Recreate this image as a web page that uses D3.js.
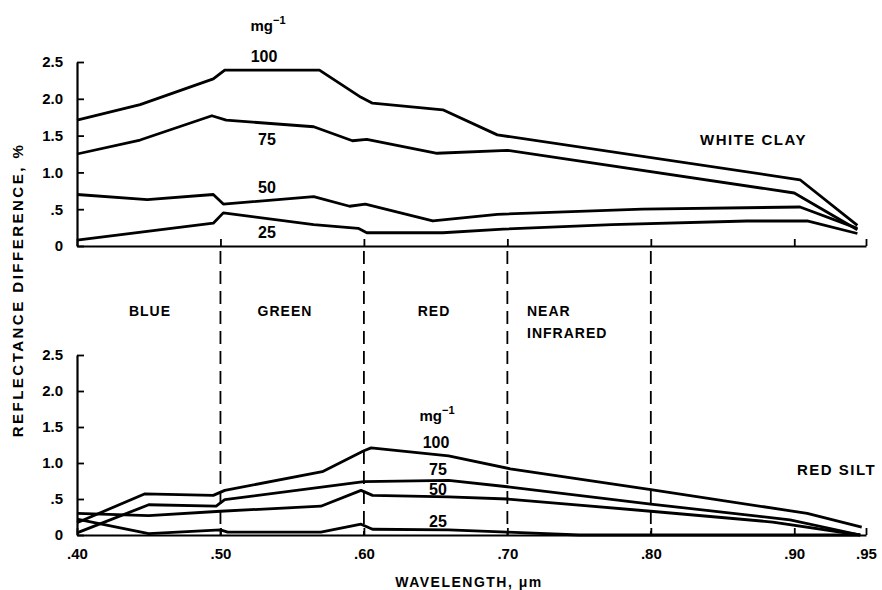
<!DOCTYPE html>
<html>
<head>
<meta charset="utf-8">
<script src="https://cdn.jsdelivr.net/npm/d3@7"></script>
<style>
  body { margin: 0; background: #fff; }
  svg text { font-family: "Liberation Sans", Arial, sans-serif; font-weight: bold; fill: #000; }
</style>
</head>
<body>
<div id="chart"></div>
<script>
// wavelength (um), reflectance difference (%)
const clay100 = [[.40,1.71],[.444,1.92],[.495,2.27],[.503,2.39],[.569,2.39],[.598,2.02],[.606,1.94],[.655,1.85],[.693,1.51],[.904,0.90],[.944,0.28]];
const clay75  = [[.40,1.25],[.444,1.44],[.494,1.77],[.504,1.71],[.565,1.62],[.592,1.43],[.602,1.45],[.651,1.26],[.700,1.30],[.900,0.72],[.944,0.22]];
const clay50  = [[.40,0.70],[.449,0.63],[.495,0.70],[.502,0.57],[.565,0.67],[.590,0.54],[.601,0.57],[.648,0.34],[.693,0.43],[.794,0.50],[.904,0.53],[.944,0.24]];
const clay25  = [[.40,0.08],[.495,0.31],[.502,0.45],[.565,0.29],[.596,0.24],[.602,0.18],[.655,0.18],[.697,0.23],[.773,0.29],[.867,0.34],[.909,0.34],[.944,0.17]];

const silt100 = [[.40,0.17],[.447,0.57],[.495,0.55],[.503,0.62],[.571,0.88],[.600,1.17],[.605,1.21],[.659,1.10],[.702,0.92],[.80,0.63],[.909,0.30],[.947,0.11]];
const silt75  = [[.40,0.03],[.45,0.42],[.497,0.40],[.503,0.49],[.60,0.74],[.659,0.76],[.70,0.67],[.80,0.43],[.897,0.21],[.946,0.0]];
const silt50  = [[.40,0.30],[.45,0.27],[.50,0.33],[.57,0.40],[.598,0.62],[.606,0.55],[.659,0.53],[.70,0.50],[.80,0.33],[.885,0.18],[.946,0.0]];
const silt25  = [[.40,0.22],[.45,0.02],[.50,0.07],[.505,0.04],[.57,0.04],[.598,0.15],[.606,0.08],[.659,0.07],[.70,0.04],[.75,0.0],[.946,0.0]];

const xTicks = [.40, .50, .60, .70, .80, .90, .95];
const xTickLabels = [".40", ".50", ".60", ".70", ".80", ".90", ".95"];
const yTicks = [0, .5, 1, 1.5, 2, 2.5];
const yTickLabels = ["0", ".5", "1.0", "1.5", "2.0", "2.5"];
const bandEdges = [.50, .60, .70, .80];
const bands = ["BLUE", "GREEN", "RED", "NEAR"];
const concLabels = ["100", "75", "50", "25"];

const width = 882, height = 590;
const svg = d3.select("#chart").append("svg")
    .attr("width", width)
    .attr("height", height);

const x = d3.scaleLinear().domain([0.40, 0.95]).range([77, 866]);
const yTop = d3.scaleLinear().domain([0, 2.5]).range([246, 62]);
const yBot = d3.scaleLinear().domain([0, 2.5]).range([535, 355]);

// band separators
svg.selectAll(".band-line")
    .data(bandEdges)
    .enter()
    .append("line")
    .attr("x1", d => x(d))
    .attr("x2", d => x(d))
    .attr("y1", yTop(0) + 5)
    .attr("y2", yBot(0))
    .attr("stroke", "#000")
    .attr("stroke-width", 1.8)
    .attr("stroke-dasharray", "13,7");

function drawAxes(y, showLabels) {
    const gx = svg.append("g")
        .attr("transform", `translate(0,${y(0)})`)
        .call(d3.axisBottom(x)
            .tickValues(xTicks)
            .tickSizeInner(-7)
            .tickSizeOuter(0)
            .tickPadding(13)
            .tickFormat((d, i) => showLabels ? xTickLabels[i] : ""));
    const gy = svg.append("g")
        .attr("transform", `translate(${x(0.40)},0)`)
        .call(d3.axisLeft(y)
            .tickValues(yTicks)
            .tickSizeInner(-7)
            .tickSizeOuter(0)
            .tickPadding(14)
            .tickFormat((d, i) => yTickLabels[i]));
    [gx, gy].forEach(g => {
        g.select(".domain").attr("stroke-width", 2.2);
        g.selectAll(".tick line").attr("stroke-width", 1.8);
        g.selectAll(".tick text").style("font-size", "15px").attr("fill", "#000");
    });
}
drawAxes(yTop, false);
drawAxes(yBot, true);

function drawSeries(series, y) {
    const line = d3.line().x(d => x(d[0])).y(d => y(d[1]));
    svg.selectAll(null)
        .data(series)
        .enter()
        .append("path")
        .attr("d", d => line(d))
        .attr("fill", "none")
        .attr("stroke", "#000")
        .attr("stroke-width", 2.8)
        .attr("stroke-linejoin", "round");
}
drawSeries([clay100, clay75, clay50, clay25], yTop);
drawSeries([silt100, silt75, silt50, silt25], yBot);

function mgLabel(cx, by) {
    const t = svg.append("text")
        .attr("x", cx)
        .attr("y", by)
        .attr("text-anchor", "middle")
        .style("font-size", "15px");
    t.append("tspan").text("mg");
    t.append("tspan").attr("dy", -7).style("font-size", "11px").text("\u22121");
}
mgLabel(268, 31);
mgLabel(437, 421);

const topLabelY = [62, 145, 193, 238];
const topLabelX = [264, 267, 267, 267];
svg.selectAll(null)
    .data(concLabels)
    .enter()
    .append("text")
    .attr("x", (d, i) => topLabelX[i])
    .attr("y", (d, i) => topLabelY[i])
    .attr("text-anchor", "middle")
    .style("font-size", "16px")
    .text(d => d);

const botLabelY = [448, 475, 495, 527];
const botLabelX = [436, 438, 438, 438];
svg.selectAll(null)
    .data(concLabels)
    .enter()
    .append("text")
    .attr("x", (d, i) => botLabelX[i])
    .attr("y", (d, i) => botLabelY[i])
    .attr("text-anchor", "middle")
    .style("font-size", "16px")
    .text(d => d);

svg.append("text")
    .attr("x", 700).attr("y", 145)
    .style("font-size", "15px")
    .style("letter-spacing", "1.5px")
    .text("WHITE CLAY");

svg.append("text")
    .attr("x", 797).attr("y", 475)
    .style("font-size", "15px")
    .style("letter-spacing", "1.5px")
    .text("RED SILT");

// spectral band names
const bandX = [150, 285, 434, 527];
const bandAnchor = ["middle", "middle", "middle", "start"];
svg.selectAll(null)
    .data(bands)
    .enter()
    .append("text")
    .attr("x", (d, i) => bandX[i])
    .attr("y", 316)
    .attr("text-anchor", (d, i) => bandAnchor[i])
    .style("font-size", "14px")
    .style("letter-spacing", "1px")
    .text(d => d);
svg.append("text")
    .attr("x", 527).attr("y", 338)
    .style("font-size", "14px")
    .style("letter-spacing", "1px")
    .text("INFRARED");

svg.append("text")
    .attr("transform", "translate(23,290) rotate(-90)")
    .attr("text-anchor", "middle")
    .style("font-size", "15px")
    .style("letter-spacing", "2.5px")
    .text("REFLECTANCE DIFFERENCE, %");

svg.append("text")
    .attr("x", 469).attr("y", 587)
    .attr("text-anchor", "middle")
    .style("font-size", "14px")
    .style("letter-spacing", "1.5px")
    .text("WAVELENGTH, \u03bcm");
</script>
</body>
</html>
